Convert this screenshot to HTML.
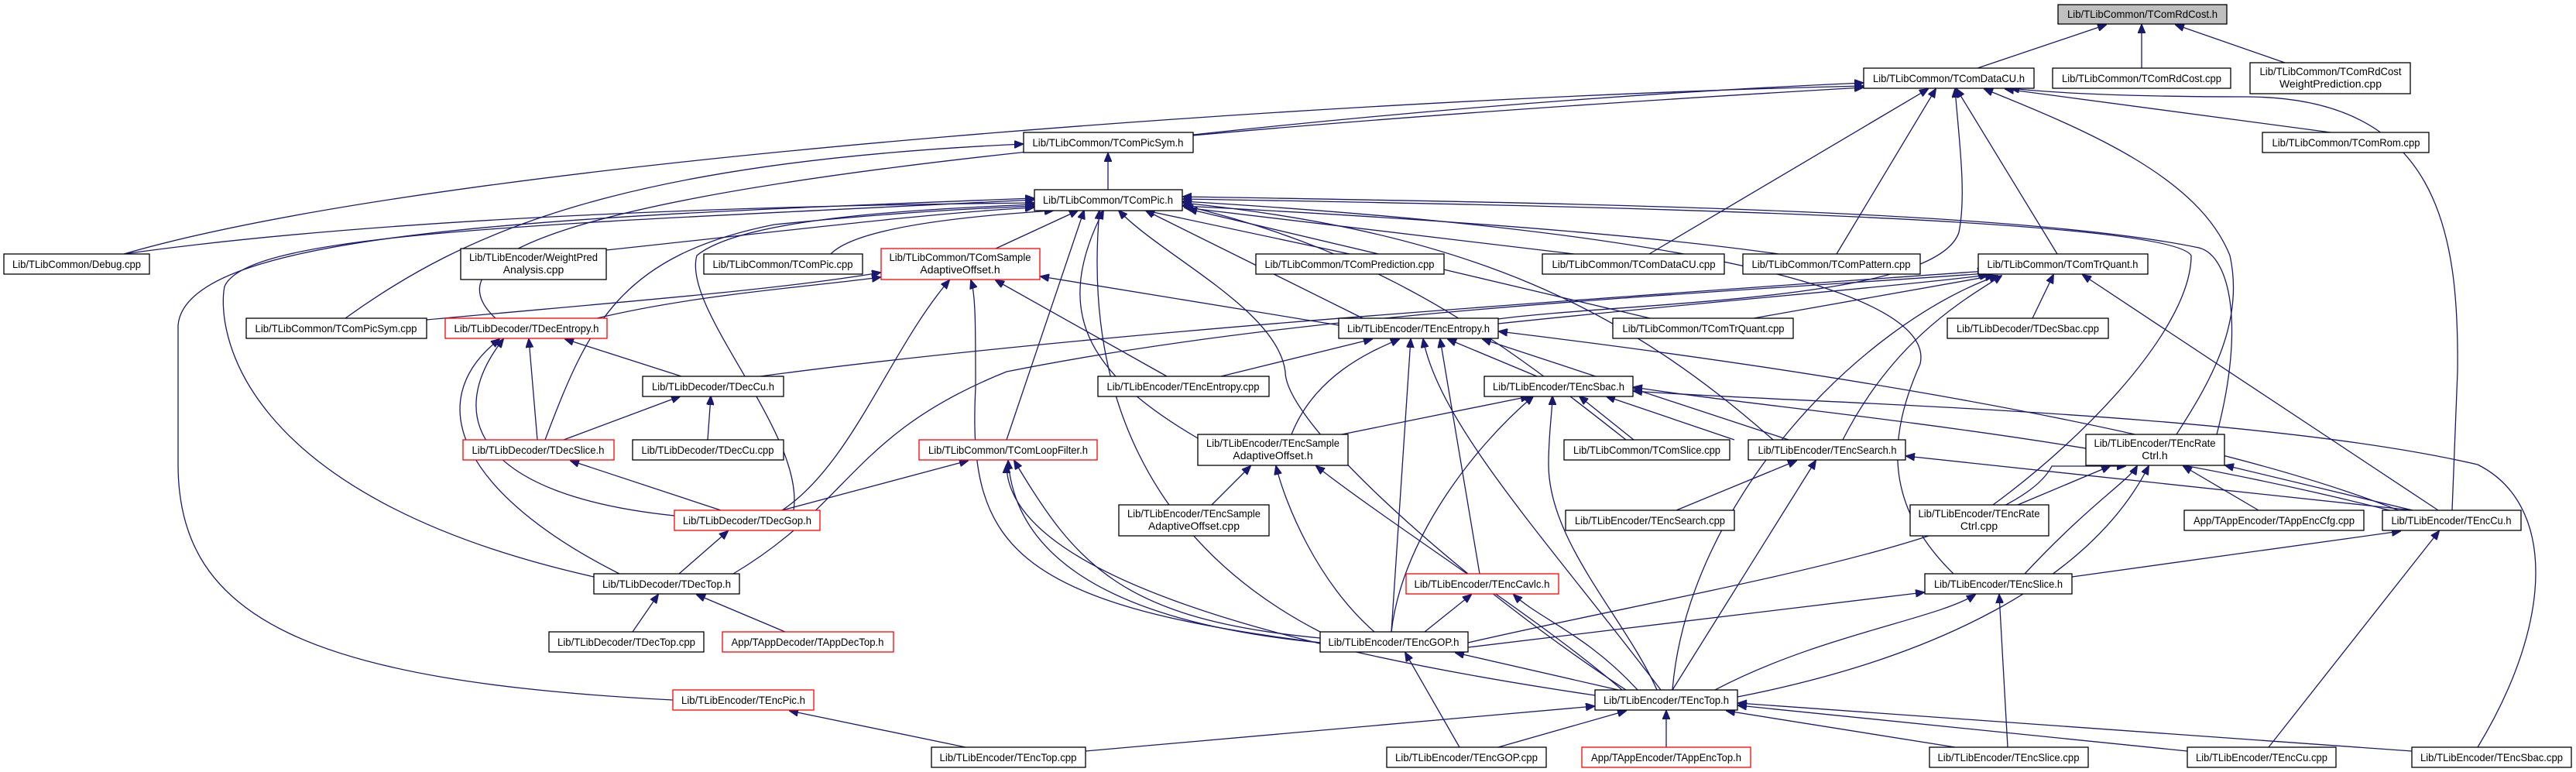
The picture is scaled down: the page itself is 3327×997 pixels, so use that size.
<!DOCTYPE html>
<html><head><meta charset="utf-8"><style>
html,body{margin:0;padding:0;background:#fff;}
svg{display:block;}
.n rect{fill:#fff;stroke:#000;stroke-width:1.3;}
.r rect{stroke:#ff0000;}
.g rect{fill:#bfbfbf;}
text{font-family:"Liberation Sans",sans-serif;font-size:14px;fill:#000;text-anchor:middle;}
path{fill:none;stroke:#191970;stroke-width:1.3;}
</style></head><body>
<svg width="3327" height="997" viewBox="0 0 3327 997" xmlns="http://www.w3.org/2000/svg">
<defs><marker id="a" markerWidth="12" markerHeight="10" refX="11" refY="5" orient="auto" markerUnits="userSpaceOnUse"><path d="M0,0 L12,5 L0,10 Z" style="fill:#191970;stroke:#191970;stroke-width:1"/></marker></defs>
<g marker-end="url(#a)">
<path d="M2554,88 L2720,32"/>
<path d="M2766,88 L2766,32"/>
<path d="M2951,81 L2810,32"/>
<path d="M1541,174 C1900,135 2200,116 2406,107"/>
<path d="M160,328 C600,200 1800,125 2406,111"/>
<path d="M640,411 C520,300 900,200 2406,113"/>
<path d="M2130,328 L2490,115"/>
<path d="M2372,328 L2500,115"/>
<path d="M2657,328 L2527,115"/>
<path d="M1935,412 C2100,390 2500,390 2530,300 C2540,250 2530,180 2525,115"/>
<path d="M2811,561 C2850,500 2900,420 2880,330 C2840,230 2700,170 2563,115"/>
<path d="M3010,171 L2590,115"/>
<path d="M3167,659 L3174,480 C3176,300 3150,125 2900,125 C2750,125 2650,120 2597,114"/>
<path d="M1431,246 L1431,198"/>
<path d="M446,411 C600,300 800,210 1321,186"/>
<path d="M160,328 C500,280 1000,265 1335,262"/>
<path d="M783,323 C1000,300 1200,275 1335,268"/>
<path d="M1073,328 C1100,300 1200,282 1360,272"/>
<path d="M1286,321 L1392,272"/>
<path d="M704,568 C760,420 800,330 1000,290 C1200,270 1300,268 1335,266"/>
<path d="M1025,659 C1040,560 880,400 900,330 C960,280 1200,270 1335,264"/>
<path d="M767,745 C300,640 280,420 290,370 C320,300 700,290 1335,258"/>
<path d="M869,904 C400,880 230,800 230,600 L230,420 C240,300 700,280 1335,256"/>
<path d="M1743,328 L1480,272"/>
<path d="M2033,328 L1530,268"/>
<path d="M2297,328 C2100,300 1800,280 1528,266"/>
<path d="M1760,411 L1480,272"/>
<path d="M2131,411 L1535,270"/>
<path d="M2290,568 C2100,400 1900,300 1528,262"/>
<path d="M2100,568 C1950,450 1800,330 1528,265"/>
<path d="M1547,566 C1400,480 1360,400 1425,272"/>
<path d="M1300,568 L1400,272"/>
<path d="M1705,816 C1480,700 1400,500 1420,272"/>
<path d="M2100,891 C1900,760 1660,550 1660,480 C1650,400 1500,330 1445,272"/>
<path d="M2574,652 C2700,560 2830,420 2830,330 C2800,280 2000,265 1528,257"/>
<path d="M2863,561 C2900,420 2880,330 2840,320 C2600,270 2000,262 1528,254"/>
<path d="M2523,741 C2430,650 2440,560 2480,470 C2500,380 2200,300 1528,260"/>
<path d="M1935,418 C2200,390 2450,370 2568,355"/>
<path d="M2265,411 L2575,356"/>
<path d="M2625,411 L2652,355"/>
<path d="M3149,659 L2690,355"/>
<path d="M2160,891 C2180,650 2400,420 2580,356"/>
<path d="M2380,568 C2450,430 2550,380 2585,356"/>
<path d="M947,741 C1100,650 1100,560 1300,480 C1700,400 2200,380 2566,353"/>
<path d="M982,486 C1400,430 2000,390 2565,350"/>
<path d="M880,486 L730,438"/>
<path d="M694,568 L683,438"/>
<path d="M871,666 C620,640 570,540 650,438"/>
<path d="M800,741 C600,640 540,520 645,438"/>
<path d="M771,411 C900,380 1050,370 1137,358"/>
<path d="M551,413 C800,390 1000,375 1137,352"/>
<path d="M1010,659 C1100,600 1150,450 1226,362"/>
<path d="M1507,486 L1286,362"/>
<path d="M1705,830 C1300,780 1250,700 1260,500 C1260,420 1260,380 1254,362"/>
<path d="M1729,420 L1344,357"/>
<path d="M728,568 L878,512"/>
<path d="M914,568 L918,512"/>
<path d="M931,659 L737,595"/>
<path d="M877,741 L940,686"/>
<path d="M1010,659 L1250,595"/>
<path d="M817,816 L850,768"/>
<path d="M1014,816 L900,768"/>
<path d="M1247,965 L1020,918"/>
<path d="M1577,486 L1772,438"/>
<path d="M1668,561 C1700,480 1780,450 1807,438"/>
<path d="M1985,486 L1870,438"/>
<path d="M1911,741 L1860,438"/>
<path d="M1797,816 L1822,438"/>
<path d="M2145,891 C2000,700 1860,550 1838,438"/>
<path d="M2310,568 L1915,438"/>
<path d="M3100,660 C2800,540 2200,460 1936,428"/>
<path d="M1733,561 L1975,512"/>
<path d="M2110,568 L2040,512"/>
<path d="M2240,568 L2075,512"/>
<path d="M1797,816 C1810,700 1900,580 1980,512"/>
<path d="M2140,891 C2100,800 2000,700 2000,600 C2000,560 2005,530 2005,512"/>
<path d="M3200,965 C3300,800 3300,650 3200,600 C2900,530 2300,520 2110,505"/>
<path d="M3090,660 C2700,560 2300,530 2110,500"/>
<path d="M1565,652 L1615,602"/>
<path d="M1775,816 C1700,750 1660,650 1648,602"/>
<path d="M2095,891 C1990,800 1800,680 1700,602"/>
<path d="M1705,824 C1450,800 1390,730 1310,595"/>
<path d="M1705,830 C1400,800 1310,700 1302,595"/>
<path d="M2060,898 C1600,830 1300,730 1300,600"/>
<path d="M2165,659 L2320,595"/>
<path d="M3116,659 L2462,589"/>
<path d="M2160,891 L2345,595"/>
<path d="M2606,652 L2725,602"/>
<path d="M2917,659 L2820,602"/>
<path d="M3116,659 L2874,601"/>
<path d="M2615,741 C2700,650 2750,620 2760,602"/>
<path d="M1896,830 C2200,760 2600,700 2650,602 L2745,602"/>
<path d="M2244,900 C2500,850 2700,750 2775,602"/>
<path d="M2676,745 L3100,686"/>
<path d="M2930,965 L3150,686"/>
<path d="M1896,836 L2485,765"/>
<path d="M2215,891 C2350,820 2500,800 2551,768"/>
<path d="M2593,965 L2582,768"/>
<path d="M1840,816 L1900,768"/>
<path d="M2115,891 C2050,820 1990,800 1955,768"/>
<path d="M2090,891 L1880,843"/>
<path d="M1885,965 L1815,843"/>
<path d="M1402,970 L2059,912"/>
<path d="M1935,965 L2100,918"/>
<path d="M2152,965 L2152,918"/>
<path d="M2525,965 L2230,918"/>
<path d="M2825,970 L2245,911"/>
<path d="M3115,970 L2245,908"/>
</g>
<g class="n g"><rect x="2658" y="6" width="218" height="25"/><text x="2767" y="23" textLength="194" lengthAdjust="spacingAndGlyphs">Lib/TLibCommon/TComRdCost.h</text></g>
<g class="n"><rect x="2407" y="88" width="220" height="26"/><text x="2517" y="106" textLength="196" lengthAdjust="spacingAndGlyphs">Lib/TLibCommon/TComDataCU.h</text></g>
<g class="n"><rect x="2651" y="88" width="230" height="26"/><text x="2766" y="106" textLength="206" lengthAdjust="spacingAndGlyphs">Lib/TLibCommon/TComRdCost.cpp</text></g>
<g class="n"><rect x="2906" y="81" width="207" height="40"/><text x="3010" y="97" textLength="183" lengthAdjust="spacingAndGlyphs">Lib/TLibCommon/TComRdCost</text><text x="3010" y="113">WeightPrediction.cpp</text></g>
<g class="n"><rect x="1322" y="171" width="219" height="26"/><text x="1431" y="189" textLength="195" lengthAdjust="spacingAndGlyphs">Lib/TLibCommon/TComPicSym.h</text></g>
<g class="n"><rect x="2922" y="171" width="215" height="26"/><text x="3030" y="189" textLength="191" lengthAdjust="spacingAndGlyphs">Lib/TLibCommon/TComRom.cpp</text></g>
<g class="n"><rect x="1336" y="245" width="191" height="27"/><text x="1431" y="263" textLength="168" lengthAdjust="spacingAndGlyphs">Lib/TLibCommon/TComPic.h</text></g>
<g class="n"><rect x="5" y="328" width="188" height="26"/><text x="99" y="346" textLength="166" lengthAdjust="spacingAndGlyphs">Lib/TLibCommon/Debug.cpp</text></g>
<g class="n"><rect x="595" y="321" width="188" height="40"/><text x="689" y="337" textLength="166" lengthAdjust="spacingAndGlyphs">Lib/TLibEncoder/WeightPred</text><text x="689" y="353">Analysis.cpp</text></g>
<g class="n"><rect x="909" y="328" width="205" height="26"/><text x="1011" y="346" textLength="181" lengthAdjust="spacingAndGlyphs">Lib/TLibCommon/TComPic.cpp</text></g>
<g class="n r"><rect x="1138" y="321" width="205" height="40"/><text x="1240" y="337" textLength="183" lengthAdjust="spacingAndGlyphs">Lib/TLibCommon/TComSample</text><text x="1240" y="353">AdaptiveOffset.h</text></g>
<g class="n"><rect x="1622" y="328" width="243" height="26"/><text x="1743" y="346" textLength="219" lengthAdjust="spacingAndGlyphs">Lib/TLibCommon/TComPrediction.cpp</text></g>
<g class="n"><rect x="1992" y="328" width="235" height="26"/><text x="2110" y="346" textLength="211" lengthAdjust="spacingAndGlyphs">Lib/TLibCommon/TComDataCU.cpp</text></g>
<g class="n"><rect x="2251" y="328" width="229" height="26"/><text x="2365" y="346" textLength="205" lengthAdjust="spacingAndGlyphs">Lib/TLibCommon/TComPattern.cpp</text></g>
<g class="n"><rect x="2555" y="328" width="219" height="26"/><text x="2664" y="346" textLength="195" lengthAdjust="spacingAndGlyphs">Lib/TLibCommon/TComTrQuant.h</text></g>
<g class="n"><rect x="318" y="411" width="233" height="26"/><text x="434" y="429" textLength="209" lengthAdjust="spacingAndGlyphs">Lib/TLibCommon/TComPicSym.cpp</text></g>
<g class="n r"><rect x="575" y="411" width="209" height="26"/><text x="680" y="429" textLength="187" lengthAdjust="spacingAndGlyphs">Lib/TLibDecoder/TDecEntropy.h</text></g>
<g class="n"><rect x="1729" y="411" width="206" height="26"/><text x="1832" y="429" textLength="184" lengthAdjust="spacingAndGlyphs">Lib/TLibEncoder/TEncEntropy.h</text></g>
<g class="n"><rect x="2083" y="411" width="233" height="26"/><text x="2200" y="429" textLength="209" lengthAdjust="spacingAndGlyphs">Lib/TLibCommon/TComTrQuant.cpp</text></g>
<g class="n"><rect x="2515" y="411" width="208" height="26"/><text x="2619" y="429" textLength="184" lengthAdjust="spacingAndGlyphs">Lib/TLibDecoder/TDecSbac.cpp</text></g>
<g class="n"><rect x="830" y="486" width="182" height="26"/><text x="921" y="504" textLength="158" lengthAdjust="spacingAndGlyphs">Lib/TLibDecoder/TDecCu.h</text></g>
<g class="n"><rect x="1418" y="486" width="221" height="26"/><text x="1528" y="504" textLength="197" lengthAdjust="spacingAndGlyphs">Lib/TLibEncoder/TEncEntropy.cpp</text></g>
<g class="n"><rect x="1917" y="486" width="192" height="26"/><text x="2013" y="504" textLength="170" lengthAdjust="spacingAndGlyphs">Lib/TLibEncoder/TEncSbac.h</text></g>
<g class="n r"><rect x="598" y="568" width="195" height="26"/><text x="695" y="586" textLength="171" lengthAdjust="spacingAndGlyphs">Lib/TLibDecoder/TDecSlice.h</text></g>
<g class="n"><rect x="817" y="568" width="195" height="26"/><text x="914" y="586" textLength="171" lengthAdjust="spacingAndGlyphs">Lib/TLibDecoder/TDecCu.cpp</text></g>
<g class="n r"><rect x="1187" y="568" width="230" height="26"/><text x="1302" y="586" textLength="206" lengthAdjust="spacingAndGlyphs">Lib/TLibCommon/TComLoopFilter.h</text></g>
<g class="n"><rect x="1547" y="561" width="194" height="40"/><text x="1644" y="577" textLength="172" lengthAdjust="spacingAndGlyphs">Lib/TLibEncoder/TEncSample</text><text x="1644" y="593">AdaptiveOffset.h</text></g>
<g class="n"><rect x="2020" y="568" width="214" height="26"/><text x="2127" y="586" textLength="190" lengthAdjust="spacingAndGlyphs">Lib/TLibCommon/TComSlice.cpp</text></g>
<g class="n"><rect x="2258" y="568" width="203" height="26"/><text x="2360" y="586" textLength="179" lengthAdjust="spacingAndGlyphs">Lib/TLibEncoder/TEncSearch.h</text></g>
<g class="n"><rect x="2694" y="561" width="179" height="40"/><text x="2783" y="577" textLength="157" lengthAdjust="spacingAndGlyphs">Lib/TLibEncoder/TEncRate</text><text x="2783" y="593">Ctrl.h</text></g>
<g class="n r"><rect x="871" y="659" width="188" height="26"/><text x="965" y="677" textLength="166" lengthAdjust="spacingAndGlyphs">Lib/TLibDecoder/TDecGop.h</text></g>
<g class="n"><rect x="1445" y="652" width="194" height="40"/><text x="1542" y="668" textLength="172" lengthAdjust="spacingAndGlyphs">Lib/TLibEncoder/TEncSample</text><text x="1542" y="684">AdaptiveOffset.cpp</text></g>
<g class="n"><rect x="2022" y="659" width="218" height="26"/><text x="2131" y="677" textLength="194" lengthAdjust="spacingAndGlyphs">Lib/TLibEncoder/TEncSearch.cpp</text></g>
<g class="n"><rect x="2467" y="652" width="179" height="40"/><text x="2556" y="668" textLength="157" lengthAdjust="spacingAndGlyphs">Lib/TLibEncoder/TEncRate</text><text x="2556" y="684">Ctrl.cpp</text></g>
<g class="n"><rect x="2821" y="659" width="232" height="26"/><text x="2937" y="677" textLength="208" lengthAdjust="spacingAndGlyphs">App/TAppEncoder/TAppEncCfg.cpp</text></g>
<g class="n"><rect x="3077" y="659" width="179" height="26"/><text x="3166" y="677" textLength="155" lengthAdjust="spacingAndGlyphs">Lib/TLibEncoder/TEncCu.h</text></g>
<g class="n"><rect x="767" y="741" width="188" height="26"/><text x="861" y="759" textLength="166" lengthAdjust="spacingAndGlyphs">Lib/TLibDecoder/TDecTop.h</text></g>
<g class="n r"><rect x="1816" y="741" width="197" height="26"/><text x="1914" y="759" textLength="175" lengthAdjust="spacingAndGlyphs">Lib/TLibEncoder/TEncCavlc.h</text></g>
<g class="n"><rect x="2486" y="741" width="190" height="26"/><text x="2581" y="759" textLength="166" lengthAdjust="spacingAndGlyphs">Lib/TLibEncoder/TEncSlice.h</text></g>
<g class="n"><rect x="709" y="816" width="200" height="26"/><text x="809" y="834" textLength="178" lengthAdjust="spacingAndGlyphs">Lib/TLibDecoder/TDecTop.cpp</text></g>
<g class="n r"><rect x="933" y="816" width="221" height="26"/><text x="1043" y="834" textLength="197" lengthAdjust="spacingAndGlyphs">App/TAppDecoder/TAppDecTop.h</text></g>
<g class="n"><rect x="1705" y="816" width="191" height="26"/><text x="1800" y="834" textLength="169" lengthAdjust="spacingAndGlyphs">Lib/TLibEncoder/TEncGOP.h</text></g>
<g class="n r"><rect x="869" y="891" width="182" height="26"/><text x="960" y="909" textLength="160" lengthAdjust="spacingAndGlyphs">Lib/TLibEncoder/TEncPic.h</text></g>
<g class="n"><rect x="2060" y="891" width="184" height="26"/><text x="2152" y="909" textLength="162" lengthAdjust="spacingAndGlyphs">Lib/TLibEncoder/TEncTop.h</text></g>
<g class="n"><rect x="1203" y="965" width="199" height="26"/><text x="1302" y="983" textLength="177" lengthAdjust="spacingAndGlyphs">Lib/TLibEncoder/TEncTop.cpp</text></g>
<g class="n"><rect x="1791" y="965" width="206" height="26"/><text x="1894" y="983" textLength="184" lengthAdjust="spacingAndGlyphs">Lib/TLibEncoder/TEncGOP.cpp</text></g>
<g class="n r"><rect x="2043" y="965" width="218" height="26"/><text x="2152" y="983" textLength="194" lengthAdjust="spacingAndGlyphs">App/TAppEncoder/TAppEncTop.h</text></g>
<g class="n"><rect x="2492" y="965" width="205" height="26"/><text x="2594" y="983" textLength="183" lengthAdjust="spacingAndGlyphs">Lib/TLibEncoder/TEncSlice.cpp</text></g>
<g class="n"><rect x="2825" y="965" width="192" height="26"/><text x="2921" y="983" textLength="170" lengthAdjust="spacingAndGlyphs">Lib/TLibEncoder/TEncCu.cpp</text></g>
<g class="n"><rect x="3115" y="965" width="206" height="26"/><text x="3218" y="983" textLength="184" lengthAdjust="spacingAndGlyphs">Lib/TLibEncoder/TEncSbac.cpp</text></g>
</svg>
</body></html>
